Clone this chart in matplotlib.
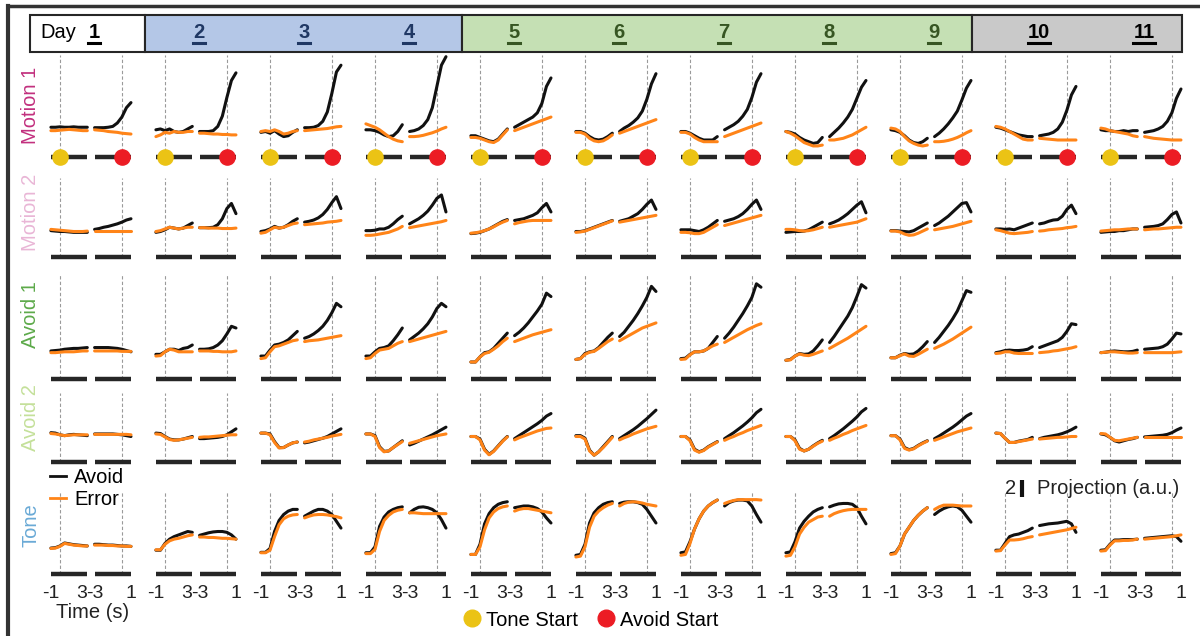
import numpy as np
import matplotlib
matplotlib.use("Agg")
from matplotlib import pyplot as plt
from matplotlib.lines import Line2D
from matplotlib.patches import Rectangle

plt.rcParams['font.family'] = ['Liberation Sans', 'DejaVu Sans']
plt.rcParams['axes.unicode_minus'] = False

# ---------------- data ----------------
days = ['1', '2', '3', '4', '5', '6', '7', '8', '9', '10', '11']
day_colors = ['black', '#203864', '#203864', '#203864', '#375623', '#375623',
              '#375623', '#375623', '#375623', 'black', 'black']
row_names = ['Motion 1', 'Motion 2', 'Avoid 1', 'Avoid 2', 'Tone']
row_colors = ['#C2307E', '#E9B6D6', '#5DAA4A', '#C4E09A', '#6AAAD6']

tone_t = [-1, -0.5, 0, 0.5, 1, 1.5, 2, 2.5, 3]      # aligned to tone start
resp_t = [-3, -2.5, -2, -1.5, -1, -0.5, 0, 0.5, 1]  # aligned to avoid start

# projections (a.u.), one list per day
motion1_avoid_tone = [
    [3.5, 3.5, 3.55, 3.5, 3.5, 3.55, 3.5, 3.5, 3.5],
    [3.2, 3.3, 3.1, 3.3, 3.0, 2.9, 3.0, 3.3, 3.6],
    [2.9, 3.0, 2.8, 3.1, 2.7, 2.4, 2.5, 2.9, 3.2],
    [3.2, 3.2, 3.1, 2.9, 2.6, 2.4, 2.5, 3.0, 3.8],
    [2.5, 2.5, 2.3, 2.1, 1.9, 1.8, 2.1, 2.7, 3.3],
    [3.0, 3.0, 2.8, 2.4, 2.1, 2.0, 2.1, 2.4, 2.8],
    [3.0, 3.0, 2.8, 2.5, 2.2, 2.0, 2.0, 2.0, 2.4],
    [3.0, 2.9, 2.7, 2.3, 2.0, 1.8, 1.6, 1.7, 2.3],
    [3.2, 3.1, 2.9, 2.5, 2.0, 1.7, 1.6, 1.8, 2.2],
    [3.5, 3.4, 3.2, 3.0, 2.8, 2.6, 2.5, 2.4, 2.4],
    [3.2, 3.1, 3.1, 3.0, 3.0, 3.1, 3.0, 3.1, 3.1],
]
motion1_error_tone = [
    [3.1, 3.1, 3.15, 3.2, 3.25, 3.2, 3.15, 3.1, 3.1],
    [2.4, 2.6, 2.9, 2.8, 3.0, 2.9, 2.9, 3.0, 3.0],
    [3.0, 3.1, 3.0, 3.2, 3.0, 2.7, 2.8, 3.0, 3.1],
    [3.9, 3.7, 3.5, 3.2, 2.8, 2.4, 2.1, 1.9, 1.8],
    [2.3, 2.3, 2.2, 2.0, 1.8, 1.7, 2.0, 2.6, 3.2],
    [2.9, 2.9, 2.7, 2.2, 1.9, 1.8, 1.9, 2.2, 2.6],
    [2.9, 2.9, 2.7, 2.3, 2.0, 1.8, 1.8, 1.8, 1.8],
    [3.0, 2.8, 2.5, 2.1, 1.7, 1.5, 1.3, 1.3, 1.4],
    [3.4, 3.3, 3.0, 2.4, 1.9, 1.6, 1.4, 1.3, 1.4],
    [3.6, 3.5, 3.3, 3.0, 2.7, 2.4, 2.1, 2.0, 2.0],
    [3.4, 3.3, 3.1, 3.0, 2.9, 2.8, 2.7, 2.5, 2.4],
]
motion1_avoid_resp = [
    [3.45, 3.45, 3.45, 3.5, 3.6, 4.0, 4.7, 5.8, 6.4],
    [3.0, 3.0, 3.0, 3.1, 3.6, 4.8, 7.0, 9.0, 9.9],
    [3.45, 3.45, 3.5, 3.7, 4.2, 5.3, 7.5, 10.0, 10.8],
    [3.0, 3.1, 3.3, 3.7, 4.4, 5.8, 8.3, 10.8, 11.8],
    [3.5, 3.8, 4.1, 4.4, 4.7, 5.2, 6.3, 8.3, 9.3],
    [3.0, 3.4, 3.7, 4.1, 4.6, 5.4, 6.8, 8.6, 9.8],
    [3.2, 3.5, 3.8, 4.2, 4.8, 5.6, 7.0, 8.8, 9.8],
    [2.4, 2.9, 3.4, 4.0, 4.7, 5.6, 6.9, 8.2, 9.0],
    [2.4, 2.8, 3.3, 3.9, 4.6, 5.4, 6.7, 8.1, 9.0],
    [2.5, 2.6, 2.7, 2.9, 3.3, 4.1, 5.5, 7.3, 8.3],
    [2.9, 3.0, 3.1, 3.3, 3.6, 4.2, 5.2, 6.9, 8.0],
]
motion1_error_resp = [
    [3.2, 3.15, 3.1, 3.0, 2.95, 2.9, 2.8, 2.75, 2.7],
    [2.8, 2.8, 2.75, 2.7, 2.7, 2.65, 2.65, 2.6, 2.6],
    [3.1, 3.15, 3.2, 3.25, 3.3, 3.35, 3.45, 3.55, 3.6],
    [2.4, 2.4, 2.45, 2.55, 2.7, 2.85, 3.05, 3.3, 3.5],
    [3.1, 3.3, 3.5, 3.7, 3.9, 4.1, 4.3, 4.5, 4.7],
    [2.8, 3.0, 3.2, 3.4, 3.6, 3.8, 4.0, 4.2, 4.4],
    [2.4, 2.6, 2.8, 3.0, 3.2, 3.4, 3.6, 3.8, 4.0],
    [2.0, 2.0, 2.1, 2.2, 2.4, 2.6, 2.9, 3.2, 3.5],
    [1.8, 1.8, 1.85, 1.95, 2.1, 2.3, 2.55, 2.85, 3.1],
    [2.2, 2.15, 2.1, 2.05, 2.0, 2.0, 2.0, 2.0, 2.0],
    [2.4, 2.3, 2.2, 2.15, 2.1, 2.05, 2.0, 2.0, 2.0],
]

motion2_avoid_tone = [
    [3.1, 3.05, 3.0, 3.0, 2.95, 2.9, 2.9, 2.9, 2.9],
    [2.9, 3.0, 3.2, 3.5, 3.4, 3.3, 3.4, 3.7, 4.0],
    [3.0, 3.1, 3.3, 3.6, 3.4, 3.5, 3.8, 4.2, 4.5],
    [3.1, 3.1, 3.15, 3.3, 3.3, 3.5, 3.9, 4.4, 4.8],
    [2.75, 2.8, 2.9, 3.1, 3.3, 3.6, 3.9, 4.2, 4.4],
    [3.0, 3.0, 3.1, 3.3, 3.5, 3.7, 3.9, 4.1, 4.3],
    [3.2, 3.2, 3.2, 3.1, 3.0, 3.2, 3.5, 3.9, 4.3],
    [2.9, 2.95, 3.0, 3.0, 3.05, 3.2, 3.5, 3.8, 4.1],
    [3.1, 3.1, 3.05, 3.0, 2.95, 3.1, 3.4, 3.7, 4.0],
    [3.3, 3.3, 3.25, 3.3, 3.2, 3.4, 3.6, 3.8, 4.0],
    [2.9, 2.95, 3.0, 3.0, 3.1, 3.1, 3.2, 3.3, 3.3],
]
motion2_error_tone = [
    [3.25, 3.2, 3.15, 3.1, 3.05, 3.0, 3.0, 3.0, 3.05],
    [3.0, 3.1, 3.3, 3.5, 3.4, 3.3, 3.4, 3.5, 3.5],
    [2.8, 2.9, 3.2, 3.5, 3.4, 3.5, 3.7, 3.9, 4.0],
    [2.55, 2.55, 2.6, 2.7, 2.8, 2.9, 3.1, 3.3, 3.6],
    [2.8, 2.85, 2.95, 3.1, 3.3, 3.55, 3.85, 4.1, 4.3],
    [2.9, 2.95, 3.05, 3.25, 3.45, 3.65, 3.85, 4.05, 4.25],
    [2.9, 2.9, 2.85, 2.75, 2.75, 2.9, 3.2, 3.5, 3.8],
    [3.25, 3.25, 3.2, 3.1, 3.05, 3.1, 3.2, 3.35, 3.5],
    [3.05, 3.05, 2.95, 2.7, 2.55, 2.6, 2.8, 3.05, 3.3],
    [3.2, 3.1, 2.95, 2.8, 2.75, 2.8, 2.85, 2.9, 3.0],
    [3.05, 3.1, 3.15, 3.2, 3.2, 3.25, 3.3, 3.3, 3.3],
]
motion2_avoid_resp = [
    [3.25, 3.35, 3.5, 3.6, 3.75, 3.9, 4.1, 4.35, 4.5],
    [3.45, 3.45, 3.45, 3.5, 3.8, 4.5, 5.7, 6.3, 5.1],
    [4.1, 4.2, 4.35, 4.6, 5.0, 5.6, 6.4, 7.1, 5.7],
    [3.9, 4.2, 4.5, 4.9, 5.4, 6.1, 6.9, 7.3, 5.3],
    [4.3, 4.4, 4.5, 4.7, 4.9, 5.2, 5.8, 6.3, 5.3],
    [4.2, 4.35, 4.5, 4.8, 5.1, 5.6, 6.2, 6.7, 5.6],
    [4.2, 4.35, 4.5, 4.75, 5.1, 5.6, 6.2, 6.7, 5.6],
    [3.9, 4.1, 4.35, 4.7, 5.1, 5.6, 6.1, 6.5, 5.2],
    [3.7, 4.0, 4.4, 4.8, 5.3, 5.8, 6.3, 6.4, 5.3],
    [3.9, 4.0, 4.2, 4.35, 4.4, 4.8, 5.6, 6.1, 5.1],
    [3.5, 3.55, 3.6, 3.7, 3.9, 4.4, 5.0, 5.3, 4.0],
]
motion2_error_resp = [
    [3.05, 3.05, 3.05, 3.05, 3.05, 3.05, 3.05, 3.05, 3.05],
    [3.45, 3.45, 3.4, 3.4, 3.4, 3.35, 3.35, 3.35, 3.4],
    [3.8, 3.85, 3.9, 3.95, 4.0, 4.1, 4.15, 4.2, 4.3],
    [3.45, 3.55, 3.65, 3.75, 3.85, 3.95, 4.05, 4.15, 4.3],
    [3.9, 4.05, 4.15, 4.25, 4.3, 4.3, 4.3, 4.3, 4.3],
    [4.1, 4.2, 4.3, 4.4, 4.5, 4.6, 4.7, 4.8, 4.9],
    [3.7, 3.85, 4.0, 4.15, 4.3, 4.45, 4.6, 4.75, 4.9],
    [3.5, 3.6, 3.7, 3.8, 3.9, 4.0, 4.1, 4.3, 4.5],
    [3.2, 3.3, 3.4, 3.5, 3.6, 3.75, 3.9, 4.05, 4.2],
    [3.05, 3.1, 3.2, 3.25, 3.3, 3.35, 3.45, 3.5, 3.6],
    [3.2, 3.25, 3.3, 3.3, 3.35, 3.4, 3.45, 3.5, 3.5],
]

avoid1_avoid_tone = [
    [3.3, 3.35, 3.4, 3.5, 3.55, 3.6, 3.6, 3.65, 3.7],
    [2.9, 2.9, 3.2, 3.5, 3.5, 3.35, 3.6, 3.7, 4.0],
    [2.7, 2.7, 3.4, 4.0, 4.1, 4.3, 4.6, 5.1, 5.6],
    [2.7, 2.7, 3.2, 3.6, 3.7, 3.9, 4.5, 5.2, 6.0],
    [2.0, 2.0, 2.6, 3.1, 3.2, 3.6, 4.2, 4.8, 5.4],
    [2.3, 2.4, 3.0, 3.2, 3.3, 3.7, 4.3, 4.9, 5.4],
    [2.4, 2.45, 2.9, 3.2, 3.2, 3.3, 3.6, 4.3, 5.0],
    [2.2, 2.3, 2.7, 3.0, 2.9, 2.95, 3.3, 3.9, 4.6],
    [2.5, 2.5, 2.8, 3.0, 2.9, 2.95, 3.3, 3.8, 4.4],
    [3.1, 3.2, 3.35, 3.4, 3.35, 3.35, 3.4, 3.5, 3.8],
    [3.1, 3.15, 3.25, 3.3, 3.25, 3.2, 3.2, 3.25, 3.4],
]
avoid1_error_tone = [
    [3.1, 3.1, 3.15, 3.2, 3.2, 3.2, 3.25, 3.3, 3.3],
    [2.7, 2.75, 3.2, 3.5, 3.4, 3.2, 3.2, 3.2, 3.2],
    [2.4, 2.5, 3.2, 3.8, 3.9, 4.1, 4.3, 4.5, 4.6],
    [2.4, 2.5, 3.0, 3.4, 3.5, 3.6, 3.9, 4.2, 4.4],
    [2.0, 2.0, 2.6, 3.0, 3.15, 3.5, 3.9, 4.4, 4.8],
    [2.3, 2.4, 2.9, 3.15, 3.25, 3.6, 4.0, 4.4, 4.7],
    [2.3, 2.35, 2.85, 3.2, 3.2, 3.3, 3.6, 3.9, 4.1],
    [2.2, 2.25, 2.7, 2.95, 2.8, 2.75, 2.9, 3.1, 3.3],
    [2.5, 2.5, 2.75, 2.95, 2.7, 2.65, 2.9, 3.2, 3.5],
    [3.0, 3.05, 3.2, 3.2, 3.05, 3.0, 3.0, 3.0, 3.0],
    [3.1, 3.15, 3.2, 3.2, 3.15, 3.1, 3.05, 3.05, 3.1],
]
avoid1_avoid_resp = [
    [3.7, 3.7, 3.7, 3.7, 3.65, 3.6, 3.5, 3.35, 3.2],
    [3.5, 3.5, 3.55, 3.7, 4.0, 4.5, 5.3, 6.2, 6.0],
    [4.8, 5.0, 5.3, 5.7, 6.2, 6.9, 7.8, 8.9, 8.5],
    [4.6, 5.0, 5.4, 5.9, 6.5, 7.3, 8.3, 8.9, 8.5],
    [5.1, 5.5, 6.0, 6.6, 7.3, 8.0, 8.8, 10.1, 9.7],
    [5.0, 5.5, 6.2, 6.9, 7.7, 8.6, 9.6, 10.9, 10.3],
    [4.8, 5.4, 6.1, 6.9, 7.7, 8.6, 9.6, 11.2, 10.8],
    [4.3, 5.0, 5.8, 6.6, 7.4, 8.4, 9.7, 11.1, 10.7],
    [4.3, 4.9, 5.6, 6.3, 7.1, 8.0, 9.2, 10.4, 10.2],
    [3.7, 3.9, 4.1, 4.3, 4.5, 4.9, 5.6, 6.5, 6.4],
    [3.5, 3.55, 3.6, 3.65, 3.8, 4.1, 4.7, 5.4, 5.3],
]
avoid1_error_resp = [
    [3.3, 3.3, 3.3, 3.3, 3.3, 3.3, 3.25, 3.25, 3.25],
    [3.3, 3.3, 3.3, 3.25, 3.25, 3.2, 3.2, 3.2, 3.3],
    [4.4, 4.5, 4.55, 4.6, 4.7, 4.8, 4.9, 5.0, 5.1],
    [4.4, 4.55, 4.7, 4.85, 5.0, 5.15, 5.3, 5.45, 5.6],
    [4.4, 4.6, 4.8, 5.0, 5.2, 5.35, 5.5, 5.65, 5.8],
    [4.5, 4.8, 5.1, 5.4, 5.7, 6.0, 6.2, 6.4, 6.6],
    [4.3, 4.6, 4.9, 5.2, 5.5, 5.8, 6.05, 6.3, 6.5],
    [3.6, 3.9, 4.2, 4.5, 4.8, 5.15, 5.5, 5.85, 6.2],
    [3.6, 3.85, 4.1, 4.4, 4.7, 5.05, 5.4, 5.75, 6.1],
    [3.1, 3.15, 3.2, 3.3, 3.35, 3.45, 3.55, 3.65, 3.8],
    [3.1, 3.1, 3.1, 3.1, 3.1, 3.1, 3.1, 3.15, 3.2],
]

avoid2_avoid_tone = [
    [3.45, 3.4, 3.2, 3.1, 3.2, 3.25, 3.2, 3.15, 3.1],
    [3.4, 3.35, 3.0, 2.7, 2.6, 2.6, 2.7, 2.85, 3.0],
    [3.4, 3.4, 3.3, 2.4, 1.7, 1.7, 2.0, 2.25, 2.35],
    [3.3, 3.3, 3.1, 1.8, 1.25, 1.3, 1.7, 2.1, 2.5],
    [3.0, 3.0, 2.7, 1.5, 0.9, 1.3, 1.9, 2.5, 3.0],
    [3.1, 3.1, 2.8, 1.4, 0.8, 1.2, 1.8, 2.4, 3.0],
    [3.0, 3.0, 2.6, 1.5, 1.2, 1.4, 1.8, 2.1, 2.4],
    [3.0, 3.0, 2.6, 1.6, 1.3, 1.5, 1.9, 2.25, 2.55],
    [3.1, 3.1, 2.7, 1.7, 1.45, 1.6, 1.95, 2.25, 2.5],
    [3.4, 3.35, 2.8, 2.3, 2.3, 2.45, 2.55, 2.65, 2.9],
    [3.3, 3.2, 2.9, 2.5, 2.35, 2.5, 2.65, 2.75, 2.9],
]
avoid2_error_tone = [
    [3.35, 3.3, 3.2, 3.1, 3.15, 3.2, 3.2, 3.2, 3.2],
    [3.3, 3.25, 2.95, 2.65, 2.55, 2.6, 2.7, 2.8, 2.9],
    [3.4, 3.4, 3.2, 2.3, 1.65, 1.7, 2.0, 2.25, 2.35],
    [3.3, 3.3, 3.0, 1.7, 1.2, 1.3, 1.7, 2.05, 2.4],
    [3.0, 3.0, 2.6, 1.4, 0.85, 1.25, 1.85, 2.45, 2.95],
    [3.0, 3.0, 2.7, 1.3, 0.8, 1.2, 1.7, 2.3, 2.9],
    [3.0, 3.0, 2.5, 1.4, 1.15, 1.35, 1.75, 2.05, 2.35],
    [3.0, 3.0, 2.5, 1.5, 1.3, 1.5, 1.85, 2.2, 2.45],
    [3.1, 3.1, 2.6, 1.6, 1.4, 1.55, 1.9, 2.2, 2.45],
    [3.4, 3.35, 2.8, 2.3, 2.3, 2.4, 2.5, 2.6, 2.7],
    [3.35, 3.3, 2.9, 2.55, 2.5, 2.6, 2.7, 2.8, 2.9],
]
avoid2_avoid_resp = [
    [3.3, 3.3, 3.3, 3.3, 3.3, 3.25, 3.2, 3.1, 3.0],
    [2.75, 2.75, 2.8, 2.85, 2.9, 3.0, 3.2, 3.55, 3.9],
    [2.25, 2.35, 2.5, 2.65, 2.8, 3.0, 3.3, 3.6, 3.9],
    [2.0, 2.2, 2.45, 2.7, 2.95, 3.2, 3.5, 3.8, 4.1],
    [2.75, 3.1, 3.45, 3.8, 4.15, 4.5, 4.9, 5.4, 5.7],
    [2.75, 3.1, 3.45, 3.8, 4.2, 4.65, 5.1, 5.6, 6.1],
    [2.75, 3.1, 3.45, 3.85, 4.25, 4.7, 5.2, 5.8, 6.2],
    [2.75, 3.1, 3.5, 3.9, 4.35, 4.8, 5.3, 5.9, 6.3],
    [2.75, 3.05, 3.4, 3.75, 4.1, 4.5, 4.95, 5.4, 5.7],
    [2.75, 2.9, 3.0, 3.1, 3.2, 3.35, 3.55, 3.8, 4.1],
    [2.95, 3.0, 3.05, 3.1, 3.15, 3.25, 3.45, 3.75, 4.0],
]
avoid2_error_resp = [
    [3.25, 3.25, 3.25, 3.25, 3.25, 3.25, 3.25, 3.25, 3.2],
    [2.9, 2.95, 2.95, 3.0, 3.05, 3.1, 3.15, 3.2, 3.2],
    [2.35, 2.45, 2.6, 2.7, 2.8, 2.9, 3.05, 3.15, 3.25],
    [2.2, 2.35, 2.5, 2.65, 2.8, 2.95, 3.1, 3.2, 3.3],
    [2.6, 2.85, 3.05, 3.25, 3.45, 3.65, 3.8, 3.95, 4.0],
    [2.6, 2.85, 3.05, 3.3, 3.5, 3.7, 3.9, 4.05, 4.2],
    [2.55, 2.8, 3.0, 3.25, 3.45, 3.7, 3.9, 4.1, 4.3],
    [2.55, 2.8, 3.0, 3.25, 3.45, 3.7, 3.9, 4.1, 4.3],
    [2.55, 2.75, 2.95, 3.15, 3.35, 3.55, 3.7, 3.85, 4.0],
    [2.7, 2.75, 2.8, 2.85, 2.9, 2.9, 2.95, 3.0, 3.0],
    [2.9, 2.9, 2.9, 2.9, 2.9, 2.9, 2.9, 2.9, 2.9],
]

tone_avoid_tone = [
    [3.05, 3.1, 3.3, 3.65, 3.55, 3.45, 3.4, 3.35, 3.3],
    [2.8, 2.8, 3.6, 4.1, 4.4, 4.6, 4.8, 5.0, 4.9],
    [2.55, 2.55, 3.0, 5.0, 6.3, 7.0, 7.4, 7.6, 7.6],
    [2.5, 2.5, 3.2, 5.6, 6.7, 7.3, 7.6, 7.8, 7.9],
    [2.3, 2.3, 3.5, 5.9, 7.1, 7.8, 8.2, 8.4, 8.5],
    [2.2, 2.3, 3.5, 6.0, 7.2, 7.8, 8.2, 8.4, 8.5],
    [2.5, 2.6, 3.8, 5.3, 6.5, 7.4, 8.0, 8.4, 8.7],
    [2.5, 2.6, 3.8, 5.4, 6.2, 6.8, 7.3, 7.6, 7.8],
    [2.4, 2.5, 3.3, 4.7, 5.5, 6.3, 6.9, 7.4, 7.8],
    [2.8, 2.8, 3.6, 4.4, 4.6, 4.7, 4.9, 5.1, 5.4],
    [2.8, 2.85, 3.5, 4.0, 4.0, 4.05, 4.05, 4.05, 4.1],
]
tone_error_tone = [
    [3.0, 3.05, 3.25, 3.6, 3.5, 3.4, 3.35, 3.3, 3.3],
    [2.85, 2.85, 3.5, 3.9, 4.1, 4.2, 4.35, 4.5, 4.6],
    [2.5, 2.5, 2.8, 4.4, 5.8, 6.5, 6.8, 6.95, 7.0],
    [2.4, 2.4, 2.9, 5.0, 6.3, 6.9, 7.3, 7.5, 7.6],
    [2.3, 2.3, 3.2, 5.2, 6.6, 7.3, 7.7, 7.9, 8.0],
    [2.0, 2.1, 3.2, 5.5, 6.8, 7.4, 7.8, 8.1, 8.3],
    [2.2, 2.3, 3.6, 5.3, 6.5, 7.4, 8.0, 8.4, 8.7],
    [2.1, 2.2, 3.2, 4.7, 5.5, 6.1, 6.4, 6.7, 6.8],
    [2.3, 2.4, 3.3, 4.7, 5.5, 6.3, 6.9, 7.4, 7.8],
    [2.7, 2.75, 3.4, 4.0, 4.0, 4.05, 4.15, 4.3, 4.4],
    [2.7, 2.75, 3.4, 3.9, 3.9, 3.95, 3.95, 4.0, 4.1],
]
tone_avoid_resp = [
    [3.5, 3.5, 3.45, 3.4, 3.4, 3.35, 3.3, 3.3, 3.25],
    [4.55, 4.7, 4.85, 4.95, 5.0, 5.0, 4.9, 4.6, 4.1],
    [6.8, 7.1, 7.4, 7.6, 7.6, 7.4, 7.0, 6.2, 5.4],
    [7.2, 7.6, 7.85, 7.9, 7.8, 7.6, 7.2, 6.4, 5.4],
    [7.8, 7.9, 8.0, 8.0, 7.9, 7.7, 7.3, 6.6, 6.0],
    [8.3, 8.45, 8.5, 8.5, 8.4, 8.2, 7.6, 6.8, 6.0],
    [8.0, 8.4, 8.6, 8.7, 8.7, 8.6, 8.0, 7.0, 6.1],
    [7.9, 8.1, 8.25, 8.3, 8.3, 8.2, 7.8, 6.8, 5.9],
    [7.0, 7.4, 7.7, 7.9, 8.0, 7.9, 7.5, 6.8, 6.1],
    [5.7, 5.8, 5.9, 5.95, 6.0, 6.1, 6.2, 5.9, 4.9],
    [4.2, 4.25, 4.3, 4.35, 4.4, 4.45, 4.5, 4.4, 3.85],
]
tone_error_resp = [
    [3.4, 3.4, 3.4, 3.35, 3.35, 3.3, 3.3, 3.25, 3.25],
    [4.35, 4.35, 4.3, 4.3, 4.25, 4.2, 4.2, 4.15, 4.1],
    [6.6, 6.8, 6.95, 7.0, 7.0, 6.95, 6.85, 6.75, 6.6],
    [7.2, 7.2, 7.15, 7.1, 7.1, 7.1, 7.1, 7.1, 7.1],
    [7.4, 7.6, 7.7, 7.7, 7.6, 7.5, 7.4, 7.3, 7.2],
    [8.0, 8.3, 8.45, 8.5, 8.45, 8.35, 8.2, 8.1, 8.0],
    [8.3, 8.5, 8.65, 8.75, 8.75, 8.75, 8.75, 8.75, 8.7],
    [6.8, 7.1, 7.3, 7.45, 7.55, 7.6, 7.6, 7.6, 7.6],
    [7.6, 7.9, 8.1, 8.1, 8.1, 8.05, 8.0, 8.0, 8.0],
    [4.6, 4.7, 4.8, 4.9, 5.0, 5.1, 5.2, 5.35, 5.5],
    [4.1, 4.15, 4.2, 4.25, 4.3, 4.35, 4.4, 4.5, 4.6],
]

rows = [
    (motion1_avoid_tone, motion1_avoid_resp, motion1_error_tone, motion1_error_resp),
    (motion2_avoid_tone, motion2_avoid_resp, motion2_error_tone, motion2_error_resp),
    (avoid1_avoid_tone, avoid1_avoid_resp, avoid1_error_tone, avoid1_error_resp),
    (avoid2_avoid_tone, avoid2_avoid_resp, avoid2_error_tone, avoid2_error_resp),
    (tone_avoid_tone, tone_avoid_resp, tone_error_tone, tone_error_resp),
]

# ---------------- layout (pixels) ----------------
W, H = 1200, 636
SHIFT = 6.8          # avoid-aligned segment drawn at t + SHIFT
PX_S = 9.1           # px per second
PX_U = 8.5           # px per a.u.
X0 = 60              # day-1 tone onset
DAY_STEP = 105
XLO, XHI = -1.3, 8.1
YLO = -0.8
row_base = [157, 257, 379, 462, 574]
row_top = [12.0, 9.3, 12.2, 8.1, 9.6]

BLACK = '#111111'
ORANGE = '#FF8418'
YELLOW = '#EBC315'
RED = '#EC1C24'
TXT = '#222222'

fig = plt.figure(figsize=(W / 100, H / 100), dpi=100)

def fx(px):
    return px / W

def fy(py):
    return 1 - py / H

for r in range(5):
    av_tone, av_resp, er_tone, er_resp = rows[r]
    for d in range(11):
        left = X0 + d * DAY_STEP + XLO * PX_S
        ax = fig.add_axes([fx(left), fy(row_base[r] - YLO * PX_U),
                           (XHI - XLO) * PX_S / W, (row_top[r] - YLO) * PX_U / H])
        ax.patch.set_visible(False)
        ax.set_xlim(XLO, XHI)
        ax.set_ylim(YLO, row_top[r])
        for s in ax.spines.values():
            s.set_visible(False)
        ax.set_yticks([])
        ax.vlines([0, SHIFT], 0, row_top[r], colors='#9a9a9a',
                  linestyles=(0, (3, 2)), lw=0.8, zorder=0)
        ax.hlines(0, -1, 3, colors='#262626', lw=3.2, capstyle='butt')
        ax.hlines(0, -3 + SHIFT, 1 + SHIFT, colors='#262626', lw=3.2, capstyle='butt')

        rt = np.array(resp_t) + SHIFT
        ax.plot(tone_t, av_tone[d], color=BLACK, lw=2.2, solid_capstyle='round')
        ax.plot(rt, av_resp[d], color=BLACK, lw=2.2, solid_capstyle='round')
        ax.plot(tone_t, er_tone[d], color=ORANGE, lw=2.2, solid_capstyle='round')
        ax.plot(rt, er_resp[d], color=ORANGE, lw=2.2, solid_capstyle='round')

        if r == 0:
            ax.scatter([0], [0], s=120, color=YELLOW, zorder=5, clip_on=False)
            ax.scatter([SHIFT], [0], s=120, color=RED, zorder=5, clip_on=False)

        if r == 4:
            ax.set_xticks([-1, 3, -3 + SHIFT, 1 + SHIFT])
            labs = ax.set_xticklabels(['-1', '3', '-3', '1'], fontsize=14, color=TXT)
            labs[1].set_ha('right')
            ax.tick_params(axis='x', length=0, pad=3)
        else:
            ax.set_xticks([])

        if r == 4 and d == 9:
            # scale bar: 2 a.u.
            ax.plot([1.9, 1.9], [9.1, 11.1], color=BLACK, lw=3, clip_on=False,
                    solid_capstyle='butt')
            ax.text(1.2, 10.1, '2', ha='right', va='center', fontsize=14.5, color=TXT)
            ax.text(3.5, 10.1, 'Projection (a.u.)', ha='left', va='center',
                    fontsize=14.5, color=TXT)

# row labels
row_label_y = [105, 212, 315, 418, 525]
for r in range(5):
    fig.text(fx(31), fy(row_label_y[r]), row_names[r], rotation=90, ha='center',
             va='center', fontsize=14.5, color=row_colors[r])

# header boxes
boxes = [(30, 145, 'white'), (145, 462, '#B4C7E7'), (462, 972, '#C5E0B4'),
         (972, 1182, '#C9C9C9')]
for x_a, x_b, c in boxes:
    fig.add_artist(Rectangle((fx(x_a), fy(52)), (x_b - x_a) / W, 37 / H,
                             transform=fig.transFigure, facecolor=c,
                             edgecolor='#262626', lw=1.5))
fig.text(fx(40), fy(33), 'Day', ha='left', va='center', fontsize=14.5)
day_texts = []
for d in range(11):
    cx = X0 + d * DAY_STEP + SHIFT * PX_S / 2 + 3
    t = fig.text(fx(cx), fy(33), days[d], ha='center', va='center',
                 fontsize=14.5, fontweight='bold', color=day_colors[d])
    day_texts.append(t)
fig.canvas.draw()
for d, t in enumerate(day_texts):
    bb = t.get_window_extent()
    fig.add_artist(Line2D([bb.x0 / W, bb.x1 / W], [fy(42.5), fy(42.5)],
                          transform=fig.transFigure, color=day_colors[d], lw=2.2))

# outer frame
fig.add_artist(Line2D([fx(8), fx(8)], [0, fy(6)], transform=fig.transFigure,
                      color='#333333', lw=3))
fig.add_artist(Line2D([fx(8), 1], [fy(6), fy(6)], transform=fig.transFigure,
                      color='#333333', lw=2.5))

# time axis label
fig.text(fx(93), fy(612), 'Time (s)', ha='center', va='center', fontsize=14.5,
         color=TXT)

# Avoid / Error legend
fig.legend(handles=[Line2D([], [], color=BLACK, lw=2),
                    Line2D([], [], color=ORANGE, lw=2)],
           labels=['Avoid', 'Error'], loc='upper left',
           bbox_to_anchor=(fx(50), fy(468)), frameon=False, fontsize=14.5,
           handlelength=0.8, handletextpad=0.4, labelspacing=0.15,
           borderpad=0, borderaxespad=0)

# event legend
fig.legend(handles=[Line2D([], [], ls='none', marker='o', ms=12, color=YELLOW),
                    Line2D([], [], ls='none', marker='o', ms=12, color=RED)],
           labels=['Tone Start', 'Avoid Start'], loc='center',
           bbox_to_anchor=(fx(591), fy(620)), ncol=2, frameon=False, fontsize=14.5,
           handlelength=0.8, handletextpad=0.3, columnspacing=1.0,
           borderpad=0, borderaxespad=0)

fig.savefig('out.png', dpi=100)
